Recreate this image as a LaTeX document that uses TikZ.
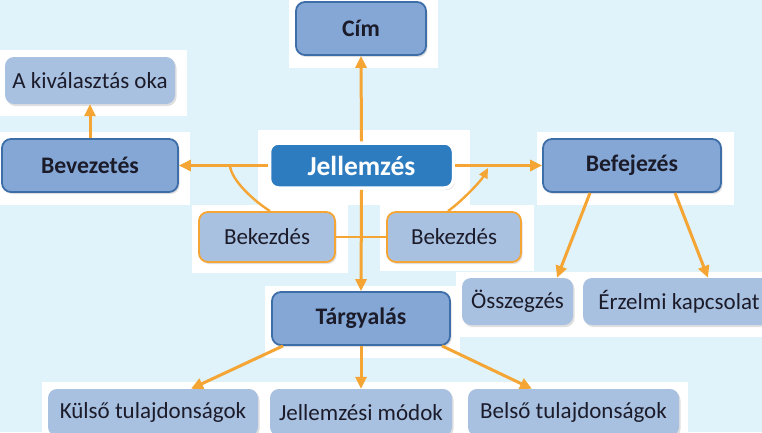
\documentclass[tikz,border=0pt]{standalone}
\usepackage{fontspec}
\setmainfont{Carlito}
\usetikzlibrary{arrows.meta,shadows}
\definecolor{bgc}{HTML}{E0F2FA}
\definecolor{mainf}{HTML}{84A7D6}
\definecolor{mainb}{HTML}{3E6EA8}
\definecolor{subf}{HTML}{A9C1E1}
\definecolor{centf}{HTML}{2E7CC0}
\definecolor{orng}{HTML}{F4A533}
\definecolor{txt}{HTML}{1B1B2A}
\begin{document}
\begin{tikzpicture}[x=1pt,y=-1pt,
 base/.style={rectangle, rounded corners=9pt, align=center, inner sep=0pt, text=txt,
   drop shadow={shadow xshift=1.5pt,shadow yshift=-2pt,opacity=0.25}},
 mainbox/.style={base, fill=mainf, draw=mainb, line width=1.8pt, font=\fontsize{23.7}{27}\selectfont\bfseries},
 subbox/.style={base, fill=subf, font=\fontsize{23}{27}\selectfont},
 bekbox/.style={subbox, draw=orng, line width=1.8pt},
 centbox/.style={base, fill=centf, draw=white, line width=3.5pt, text=white, font=\fontsize{27.5}{31}\selectfont\bfseries},
 arr/.style={draw=orng, line width=3pt, -{Triangle[length=12pt,width=11pt]}},
 lnk/.style={draw=orng, line width=2.4pt},
 halo/.style={fill=white}]
\useasboundingbox (0,0) rectangle (762,432);
\clip (0,0) rectangle (762,432);
\fill[bgc] (0,0) rectangle (762,432);
% white halos
\fill[halo] (289,0) rectangle (438,68);
\fill[halo] (0,50) rectangle (187,116);
\fill[halo] (0,132) rectangle (190,205);
\fill[halo] (258,130) rectangle (470,205);
\fill[halo] (537,132) rectangle (734,205);
\fill[halo] (192,205) rectangle (348,273);
\fill[halo] (380,205) rectangle (534,271);
\fill[halo] (265,286) rectangle (460,358);
\fill[halo] (456,272) rectangle (762,337);
\fill[halo] (42,382) rectangle (688,432);
% nodes
\node[mainbox, minimum width=130pt, minimum height=53pt] (cim) at (361,28.5) {Cím};
\node[subbox, minimum width=170pt, minimum height=47pt] (kival) at (90,80.5) {A kiválasztás oka};
\node[mainbox, minimum width=176pt, minimum height=53pt] (bev) at (90,165.5) {Bevezetés};
\node[centbox, minimum width=184pt, minimum height=45pt] (jel) at (361.5,165.5) {Jellemzés};
\node[mainbox, minimum width=178pt, minimum height=53pt] (bef) at (632,165.5) {Befejezés};
\node[bekbox, minimum width=136pt, minimum height=50pt] (bekl) at (267,237) {Bekezdés};
\node[bekbox, minimum width=134pt, minimum height=50pt] (bekr) at (454,237) {Bekezdés};
\node[mainbox, minimum width=178pt, minimum height=53pt] (targy) at (361,318.5) {Tárgyalás};
\node[subbox, minimum width=111pt, minimum height=47pt] (ossz) at (517.5,301.5) {Összegzés};
\node[subbox, minimum width=192pt, minimum height=47pt] (erz) at (679,301.5) {Érzelmi kapcsolat};
\node[subbox, minimum width=210pt, minimum height=47pt] (kul) at (153,412.5) {Külső tulajdonságok};
\node[subbox, minimum width=182pt, minimum height=47pt] (jmod) at (361,412.5) {Jellemzési módok};
\node[subbox, minimum width=211pt, minimum height=47pt] (bel) at (573.5,412.5) {Belső tulajdonságok};
% connectors
\draw[arr] (jel.north) -- (cim.south);
\draw[arr] (bev.north) -- (kival.south);
\draw[arr] (jel.west) -- (bev.east);
\draw[arr] (jel.east) -- (bef.west);
\draw[arr] (jel.south) -- (targy.north);
\draw[arr] ([xshift=-42pt]bef.south) -- ([xshift=39.5pt]ossz.north);
\draw[arr] ([xshift=43pt]bef.south) -- ([xshift=29pt]erz.north);
\draw[arr] ([xshift=-78pt]targy.south) -- ([xshift=38pt]kul.north);
\draw[arr] (targy.south) -- (jmod.north);
\draw[arr] ([xshift=81pt]targy.south) -- ([xshift=-41.5pt]bel.north);
\coordinate (jl) at (230,165.5);
\coordinate (jr) at (488,168);
\draw[lnk] ([xshift=3pt]bekl.north) .. controls (254,201) and (231,180) .. (jl);
\draw[lnk, -{Triangle[length=10pt,width=9pt]}] ([xshift=-6pt]bekr.north) .. controls (462,201) and (481,181) .. (jr);
\draw[lnk] (bekl.east) -- (bekr.west);
\end{tikzpicture}
\end{document}
